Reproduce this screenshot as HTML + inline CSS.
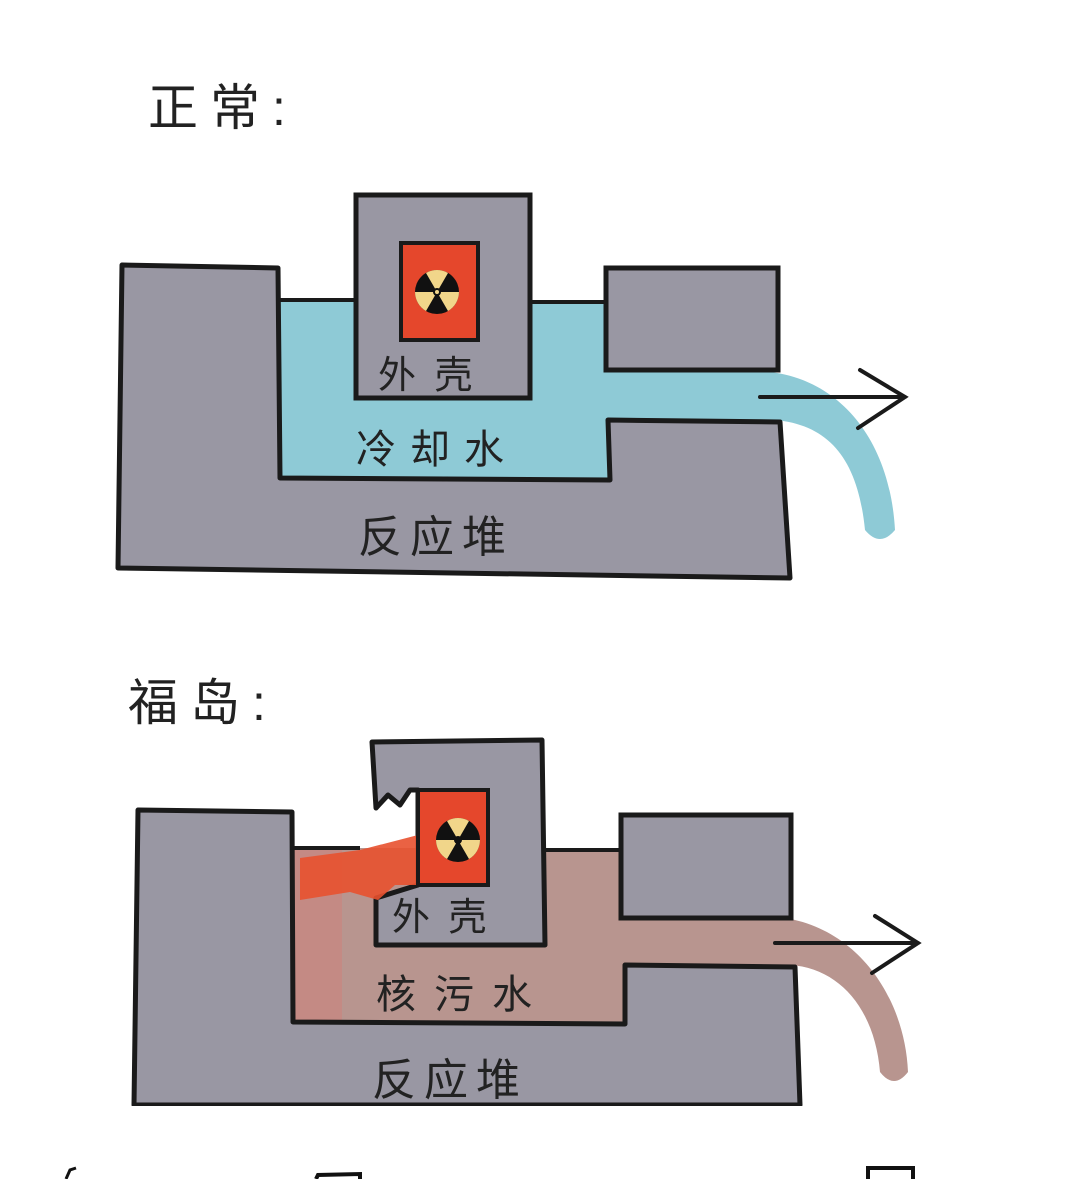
<!DOCTYPE html>
<html><head><meta charset="utf-8"><style>
html,body{margin:0;padding:0;background:#fff;}
svg{display:block;}
text{font-family:"Liberation Sans","Noto Sans CJK SC",sans-serif;fill:#222;}
</style></head><body>
<svg width="1080" height="1179" viewBox="0 0 1080 1179" xmlns="http://www.w3.org/2000/svg">
<rect width="1080" height="1179" fill="#fff"/>
<!-- TOP -->
<text x="148" y="125" font-size="50" fill="#333" letter-spacing="12">正常:</text>
<path d="M280,300 L605,300 L605,372 L770,372 C840,380 890,440 895,530 Q880,548 865,530 C858,460 830,425 775,420 L608,420 L608,478 L280,478 Z" fill="#8ecad6"/>
<path d="M122,265 L278,268 L280,478 L610,480 L608,420 L780,422 L790,578 L118,568 Z" fill="#9997a3" stroke="#1a1a1a" stroke-width="5" stroke-linejoin="round"/>
<rect x="606" y="268" width="172" height="102" fill="#9997a3" stroke="#1a1a1a" stroke-width="5"/>
<line x1="278" y1="300" x2="356" y2="300" stroke="#1a1a1a" stroke-width="4"/>
<line x1="530" y1="302" x2="606" y2="302" stroke="#1a1a1a" stroke-width="4"/>
<rect x="356" y="195" width="174" height="203" fill="#9997a3" stroke="#1a1a1a" stroke-width="5"/>
<rect x="401" y="243" width="77" height="97" fill="#e5472c" stroke="#1a1a1a" stroke-width="4"/>
<circle cx="437" cy="292" r="22" fill="#111"/>
<path d="M437,292 L426,273 A22,22 0 0 1 448,273 Z M437,292 L459,292 A22,22 0 0 1 448,311 Z M437,292 L426,311 A22,22 0 0 1 415,292 Z" fill="#f1d68a"/>
<circle cx="437" cy="292" r="4" fill="#111"/>
<circle cx="437" cy="292" r="2" fill="#f1d68a"/>
<text x="378" y="388" font-size="38" letter-spacing="4">外 壳</text>
<text x="356" y="463" font-size="40" fill="#1d3a40" letter-spacing="14">冷却水</text>
<text x="358" y="552" font-size="44" letter-spacing="8">反应堆</text>
<path d="M760,397 L905,397 M860,370 L905,397 L858,428" fill="none" stroke="#1a1a1a" stroke-width="4" stroke-linecap="round"/>

<!-- BOTTOM -->
<text x="128" y="720" font-size="50" fill="#333" letter-spacing="12">福岛:</text>
<path d="M292,848 L625,848 L625,918 L785,918 C860,930 905,1000 908,1072 Q894,1090 880,1072 C875,1010 840,968 790,965 L625,965 L625,1022 L292,1022 Z" fill="#b8958f"/>
<rect x="292" y="850" width="50" height="172" fill="#d0807a" opacity="0.5"/>
<path d="M138,810 L292,812 L293,1022 L625,1024 L625,965 L795,967 L800,1105 L134,1105 Z" fill="#9997a3" stroke="#1a1a1a" stroke-width="5" stroke-linejoin="round"/>
<rect x="621" y="815" width="170" height="103" fill="#9997a3" stroke="#1a1a1a" stroke-width="5"/>
<line x1="292" y1="848" x2="360" y2="848" stroke="#1a1a1a" stroke-width="4"/>
<line x1="542" y1="850" x2="621" y2="850" stroke="#1a1a1a" stroke-width="4"/>
<path d="M372,742 L542,740 L545,945 L376,945 L376,898 L418,885 L418,790 L410,790 L400,805 L388,795 L376,808 Z" fill="#9997a3" stroke="#1a1a1a" stroke-width="5" stroke-linejoin="round"/>
<path d="M418,835 L360,850 L300,858 L300,900 L350,892 L378,900 L395,885 L418,885 Z" fill="#e8512f" opacity="0.9"/>
<rect x="418" y="790" width="70" height="95" fill="#e5472c" stroke="#1a1a1a" stroke-width="4"/>
<circle cx="458" cy="840" r="22" fill="#111"/>
<path d="M458,840 L447,821 A22,22 0 0 1 469,821 Z M458,840 L480,840 A22,22 0 0 1 469,859 Z M458,840 L447,859 A22,22 0 0 1 436,840 Z" fill="#f1d68a"/>
<circle cx="458" cy="840" r="4" fill="#111"/>
<text x="392" y="930" font-size="38" letter-spacing="4">外 壳</text>
<text x="376" y="1008" font-size="40" fill="#3a2a28" letter-spacing="18">核污水</text>
<text x="372" y="1095" font-size="44" letter-spacing="8">反应堆</text>
<path d="M775,943 L918,943 M875,916 L918,943 L872,973" fill="none" stroke="#1a1a1a" stroke-width="4" stroke-linecap="round"/>
<rect x="0" y="1106" width="1080" height="73" fill="#fff"/>
<path d="M66,1179 L70,1170 L76,1168" fill="none" stroke="#111" stroke-width="3"/>
<path d="M316,1179 L318,1175 L360,1174 L360,1179" fill="none" stroke="#111" stroke-width="4"/>
<path d="M868,1179 L868,1168 L913,1168 L913,1179" fill="none" stroke="#111" stroke-width="4"/>
</svg>
</body></html>
